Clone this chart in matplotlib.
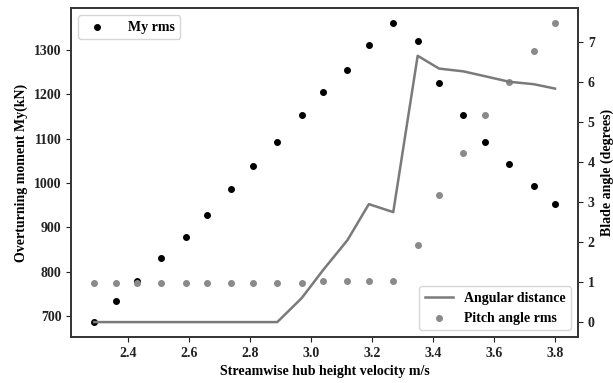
import matplotlib
matplotlib.use("Agg")
import matplotlib.pyplot as plt

plt.rcParams['font.family'] = ['Liberation Serif', 'DejaVu Serif']
plt.rcParams['font.weight'] = 'bold'
plt.rcParams['font.size'] = 10

# streamwise hub height velocity (m/s)
velocity = [2.29, 2.36, 2.43, 2.51, 2.59, 2.66, 2.74, 2.81, 2.89, 2.97, 3.04,
            3.12, 3.19, 3.27, 3.35, 3.42, 3.50, 3.57, 3.65, 3.73, 3.80]

# overturning moment rms (kN)
my_rms = [686, 734, 779, 830, 877, 928, 987, 1038, 1092, 1153, 1205,
          1256, 1311, 1361, 1321, 1226, 1154, 1093, 1042, 994, 952]

# blade angles (degrees)
angular_distance = [0, 0, 0, 0, 0, 0, 0, 0, 0, 0.6, 1.3,
                    2.05, 2.95, 2.75, 6.66, 6.34, 6.27, 6.15, 6.01, 5.95, 5.84]
pitch_rms = [0.99, 0.99, 0.99, 0.99, 0.99, 0.99, 0.99, 0.99, 0.99, 0.99, 1.02,
             1.02, 1.02, 1.02, 1.93, 3.18, 4.22, 5.17, 6.01, 6.77, 7.48]

fig, ax1 = plt.subplots(figsize=(6.13, 3.83), dpi=100)
fig.subplots_adjust(left=0.116, right=0.943, top=0.979, bottom=0.12)

ax1.scatter(velocity, my_rms, s=16, color='black', label='My rms', zorder=3)
ax1.set_xlabel('Streamwise hub height velocity m/s', fontweight='bold')
ax1.set_ylabel('Overturning moment My(kN)', fontweight='bold')
ax1.legend(loc='upper left', handletextpad=1.2)

ax2 = ax1.twinx()
ax2.plot(velocity, angular_distance, color='#7a7a7a', lw=1.8, label='Angular distance')
ax2.scatter(velocity, pitch_rms, s=16, color='#8a8a8a', label='Pitch angle rms')
ax2.set_ylabel('Blade angle (degrees)', fontweight='bold')
ax2.legend(loc='lower right')

for ax in (ax1, ax2):
    for sp in ax.spines.values():
        sp.set_color('#333333')
        sp.set_linewidth(1.2)
    ax.tick_params(colors='#222222')

fig.savefig('out.png', dpi=100)
